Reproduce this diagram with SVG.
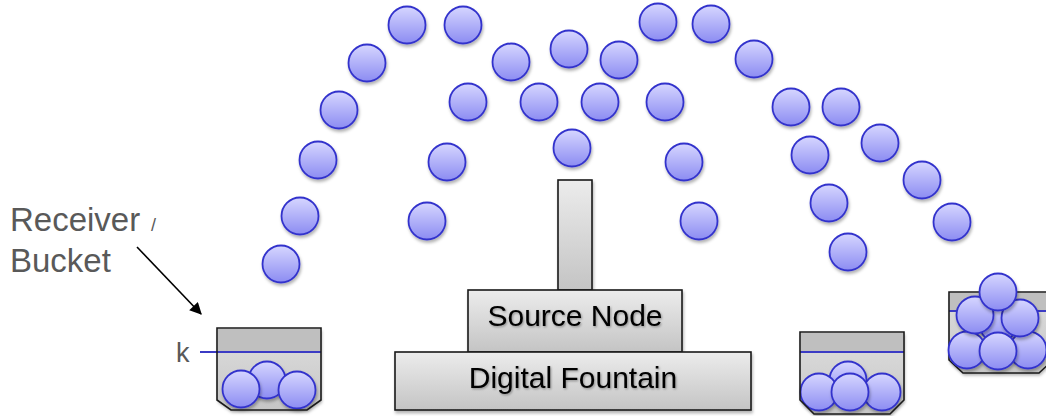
<svg xmlns="http://www.w3.org/2000/svg" xmlns:xlink="http://www.w3.org/1999/xlink" width="1046" height="416" viewBox="0 0 1046 416">
  <defs>
    <linearGradient id="ballFill" x1="0" y1="0" x2="0" y2="1">
      <stop offset="0" stop-color="#d6d6ff"/>
      <stop offset="1" stop-color="#8c8cf2"/>
    </linearGradient>
    <linearGradient id="boxFill" x1="0" y1="0" x2="0" y2="1">
      <stop offset="0" stop-color="#ececec"/>
      <stop offset="1" stop-color="#c4c4c4"/>
    </linearGradient>
    <linearGradient id="bucketFill" x1="0" y1="0" x2="0" y2="1">
      <stop offset="0" stop-color="#dedede"/>
      <stop offset="1" stop-color="#c6c6c6"/>
    </linearGradient>
    <filter id="shadow" x="-20%" y="-20%" width="150%" height="150%">
      <feDropShadow dx="1" dy="2.5" stdDeviation="1.6" flood-color="#000" flood-opacity="0.3"/>
    </filter>
    <filter id="textShadow" x="-10%" y="-20%" width="120%" height="150%">
      <feDropShadow dx="1" dy="1.2" stdDeviation="0.8" flood-color="#000" flood-opacity="0.35"/>
    </filter>
    <marker id="arrowHeadBig" viewBox="0 0 10 10" refX="9" refY="5" markerWidth="14" markerHeight="12" markerUnits="userSpaceOnUse" orient="auto">
      <path d="M0,0 L10,5 L0,10 z" fill="#000"/>
    </marker>
  </defs>
  <style>
    .ball { fill: url(#ballFill); stroke: #3333cc; stroke-width: 1.8; filter: url(#shadow); }
    .box { fill: url(#boxFill); stroke: #1a1a1a; stroke-width: 1.6; filter: url(#shadow); }
    .bucket { fill: url(#bucketFill); filter: url(#shadow); }
    .bucketEdge { fill: none; stroke: #1a1a1a; stroke-width: 1.6; }
    .band { fill: #bfbfbf; }
    .level { stroke: #3b3bc4; stroke-width: 2; }
    .label { font-family: "Liberation Sans", Arial, sans-serif; fill: #595959; }
    .boxText { font-family: "Liberation Sans", Arial, sans-serif; font-size: 30px; fill: #000; text-anchor: middle; filter: url(#textShadow); }
  </style>

  <!-- packets in flight -->
  <g id="packets">
    <circle class="ball" cx="281" cy="264" r="18.5"/>
    <circle class="ball" cx="300" cy="216" r="18.5"/>
    <circle class="ball" cx="318" cy="160" r="18.5"/>
    <circle class="ball" cx="339" cy="110" r="18.5"/>
    <circle class="ball" cx="367" cy="63" r="18.5"/>
    <circle class="ball" cx="407" cy="25" r="18.5"/>
    <circle class="ball" cx="463" cy="25" r="18.5"/>
    <circle class="ball" cx="511" cy="62" r="18.5"/>
    <circle class="ball" cx="468" cy="102" r="18.5"/>
    <circle class="ball" cx="447" cy="162" r="18.5"/>
    <circle class="ball" cx="427" cy="221" r="18.5"/>
    <circle class="ball" cx="569" cy="49" r="18.5"/>
    <circle class="ball" cx="619" cy="60" r="18.5"/>
    <circle class="ball" cx="658" cy="22" r="18.5"/>
    <circle class="ball" cx="711" cy="24" r="18.5"/>
    <circle class="ball" cx="754" cy="59" r="18.5"/>
    <circle class="ball" cx="539" cy="102" r="18.5"/>
    <circle class="ball" cx="600" cy="102" r="18.5"/>
    <circle class="ball" cx="665" cy="102" r="18.5"/>
    <circle class="ball" cx="572" cy="148" r="18.5"/>
    <circle class="ball" cx="684" cy="162" r="18.5"/>
    <circle class="ball" cx="699" cy="221" r="18.5"/>
    <circle class="ball" cx="791" cy="107" r="18.5"/>
    <circle class="ball" cx="841" cy="107" r="18.5"/>
    <circle class="ball" cx="810" cy="155" r="18.5"/>
    <circle class="ball" cx="880" cy="143" r="18.5"/>
    <circle class="ball" cx="922" cy="180" r="18.5"/>
    <circle class="ball" cx="952" cy="222" r="18.5"/>
    <circle class="ball" cx="829" cy="203" r="18.5"/>
    <circle class="ball" cx="848" cy="252" r="18.5"/>
  </g>

  <!-- fountain: nozzle, source node, base -->
  <g id="nozzle">
    <rect class="box" x="558" y="180" width="34" height="110"/>
  </g>
  <g id="source-node">
    <rect class="box" x="468" y="290" width="214" height="62"/>
    <text class="boxText" x="575" y="326">Source Node</text>
  </g>
  <g id="digital-fountain">
    <rect class="box" x="395" y="352" width="356" height="58"/>
    <text class="boxText" x="573" y="388">Digital Fountain</text>
  </g>

  <!-- receiver buckets -->
  <g id="bucket-left">
    <polygon class="bucket" points="217,328 321,328 321,400 307,410 231,410 217,400"/>
    <rect class="band" x="218" y="329" width="102" height="23"/>
    <line class="level" x1="200" y1="352" x2="321" y2="352"/>
    <circle class="ball" cx="267" cy="380" r="18.5"/>
    <circle class="ball" cx="297" cy="390" r="18.5"/>
    <circle class="ball" cx="241" cy="389" r="18.5"/>
    <polygon class="bucketEdge" points="217,328 321,328 321,400 307,410 231,410 217,400"/>
    <text class="label" x="176" y="362" font-size="27">k</text>
  </g>
  <g id="bucket-middle">
    <polygon class="bucket" points="800,332 904,332 904,400 890,414 814,414 800,400"/>
    <rect class="band" x="801" y="333" width="102" height="19"/>
    <line class="level" x1="800" y1="352" x2="904" y2="352"/>
    <circle class="ball" cx="848" cy="380" r="18.5"/>
    <circle class="ball" cx="819" cy="392" r="18.5"/>
    <circle class="ball" cx="882" cy="392" r="18.5"/>
    <circle class="ball" cx="850" cy="392" r="18.5"/>
    <polygon class="bucketEdge" points="800,332 904,332 904,400 890,414 814,414 800,400"/>
  </g>
  <g id="bucket-right">
    <polygon class="bucket" points="949,292 1053,292 1053,360 1039,373 963,373 949,360"/>
    <rect class="band" x="950" y="293" width="102" height="18"/>
    <line class="level" x1="949" y1="311" x2="1053" y2="311"/>
    <polygon class="bucketEdge" points="949,292 1053,292 1053,360 1039,373 963,373 949,360"/>
    <circle class="ball" cx="998" cy="324" r="18.5"/>
    <circle class="ball" cx="967" cy="350" r="18.5"/>
    <circle class="ball" cx="1028" cy="350" r="18.5"/>
    <circle class="ball" cx="975" cy="315" r="18.5"/>
    <circle class="ball" cx="1020" cy="318" r="18.5"/>
    <circle class="ball" cx="998" cy="351" r="18.5"/>
    <circle class="ball" cx="998" cy="292" r="18.5"/>
  </g>

  <!-- caption -->
  <g id="receiver-label">
    <text class="label" x="10" y="231" font-size="33">Receiver</text>
    <text class="label" x="151" y="231" font-size="18">/</text>
    <text class="label" x="10" y="272" font-size="33">Bucket</text>
  </g>

  <g id="connectors">
    <line x1="137" y1="247" x2="201" y2="314" stroke="#000" stroke-width="1.6" marker-end="url(#arrowHeadBig)"/>
  </g>
</svg>
